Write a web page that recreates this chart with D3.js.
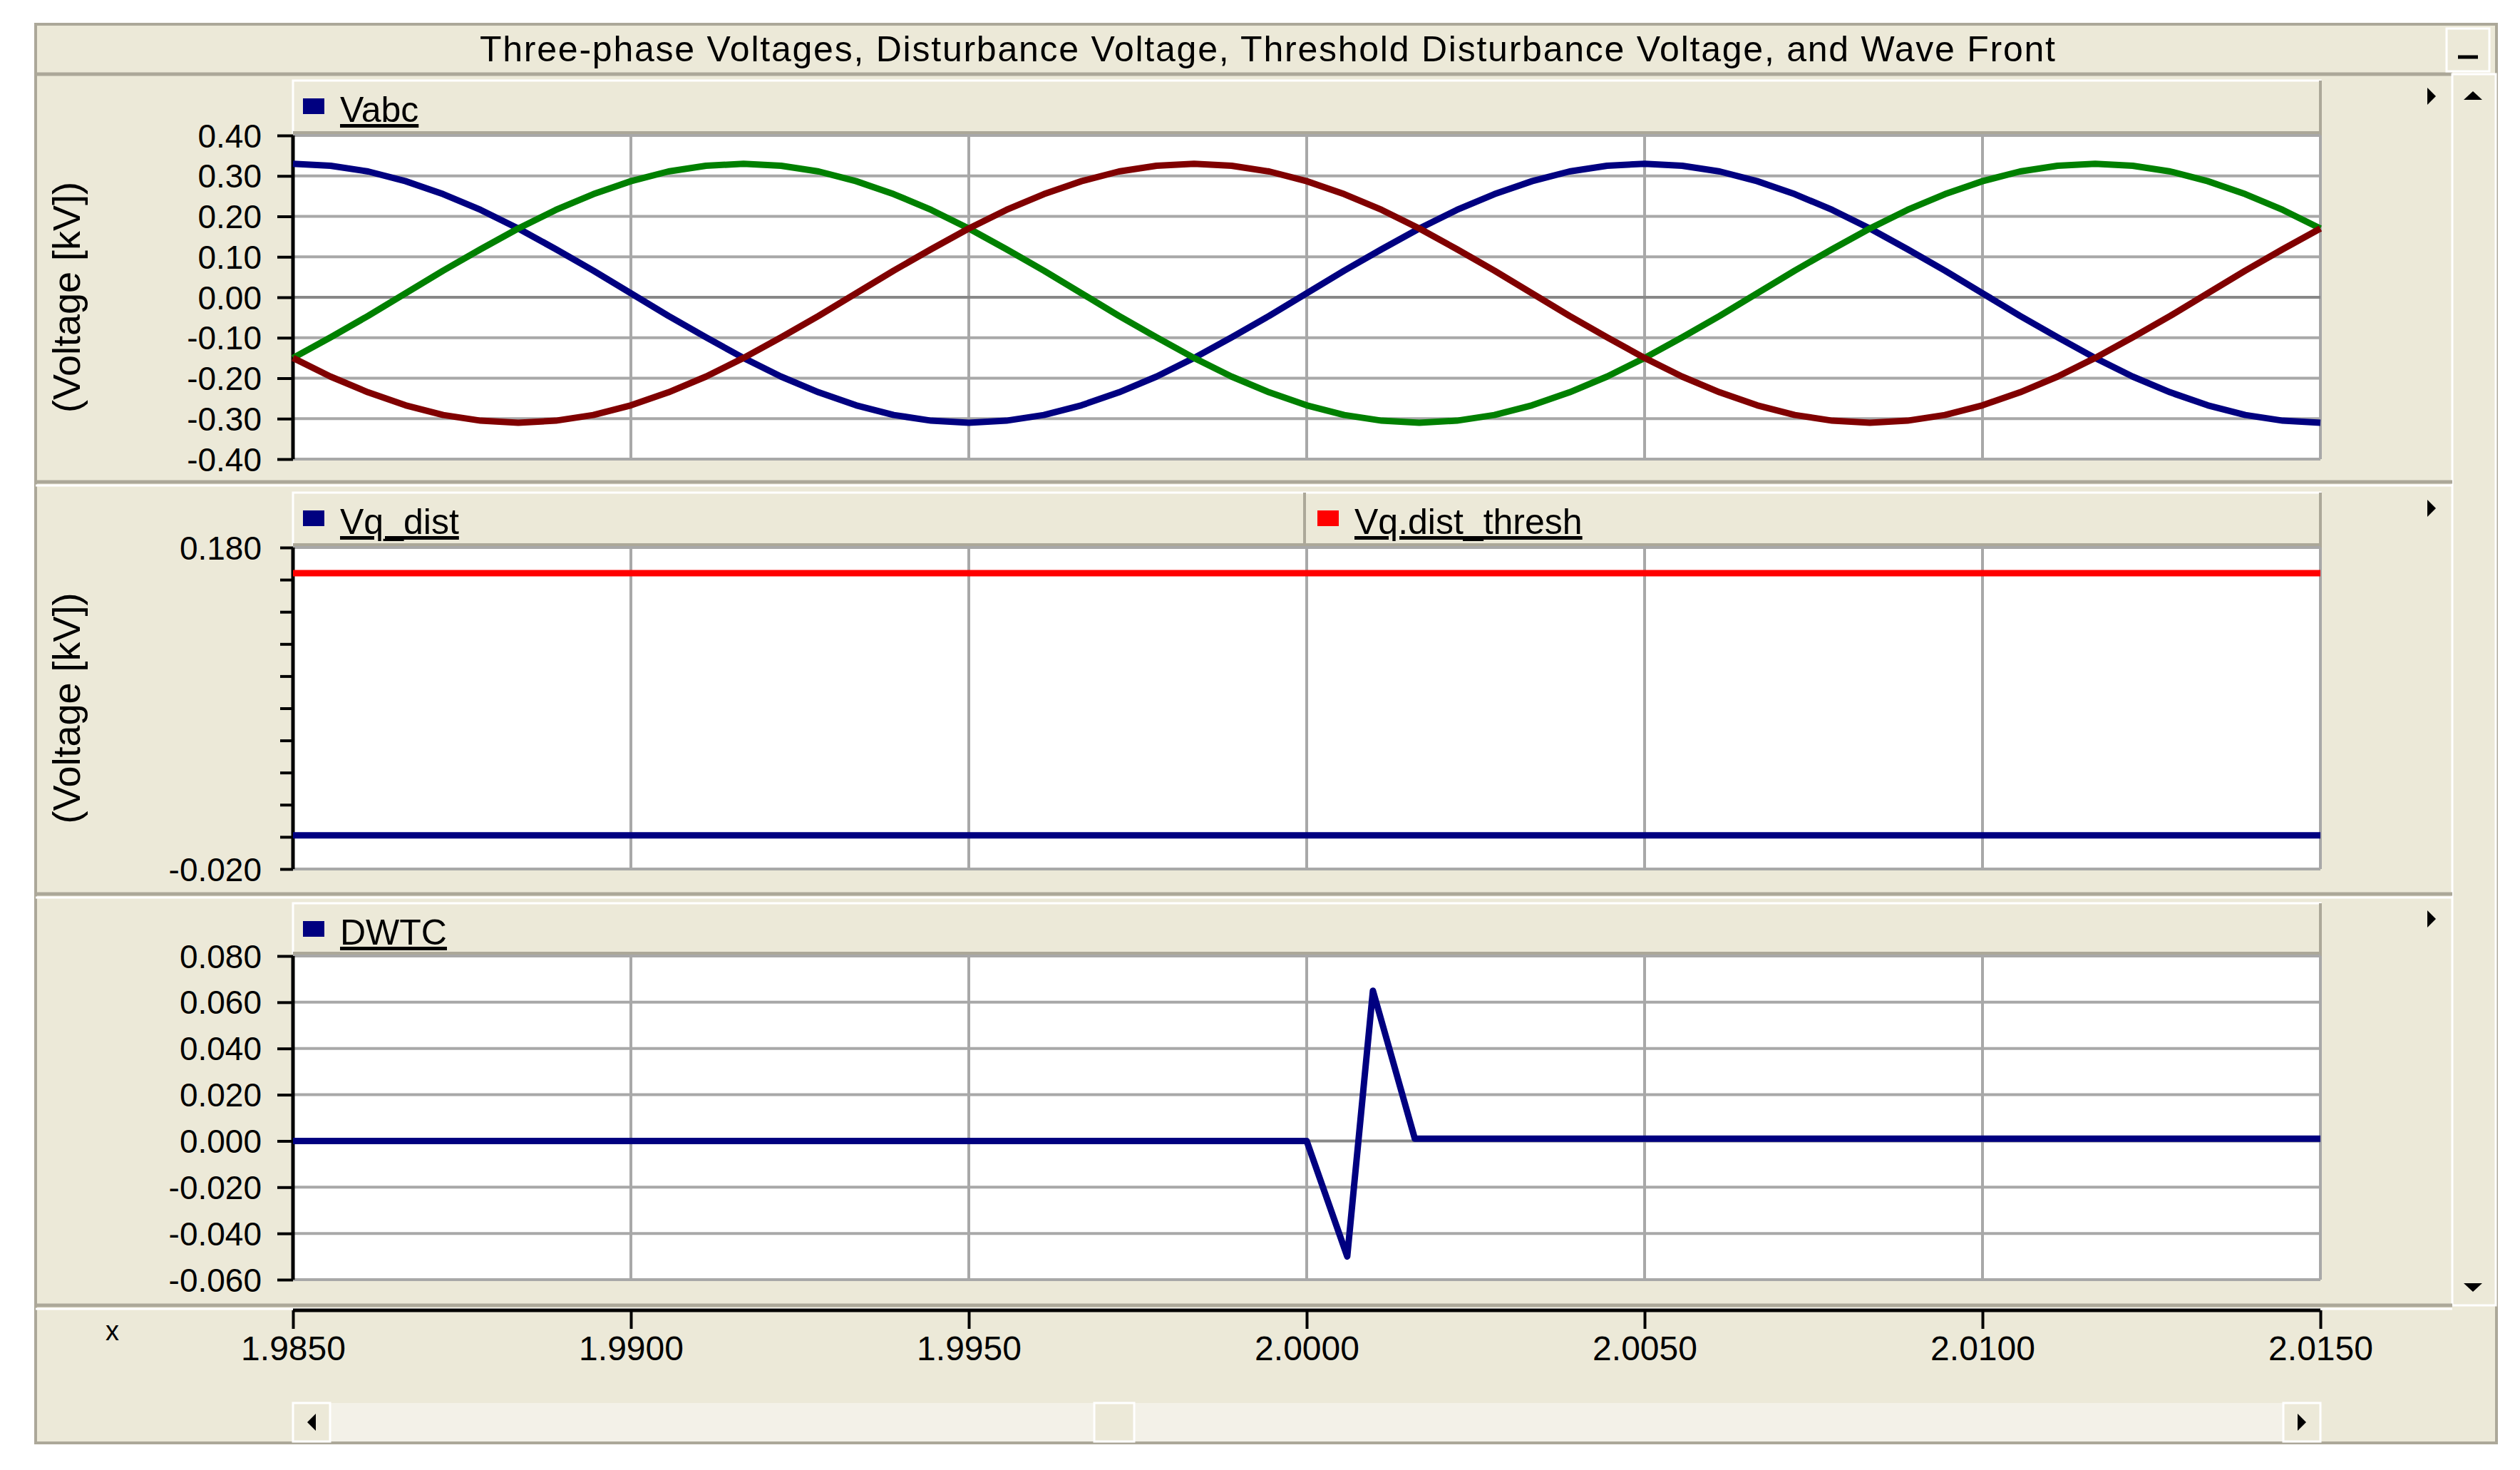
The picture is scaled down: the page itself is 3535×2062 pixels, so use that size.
<!DOCTYPE html>
<html><head><meta charset="utf-8">
<script src="https://cdn.jsdelivr.net/npm/d3@7"></script>
<style>body{margin:0;background:#fff}svg{display:block}</style>
</head><body>
<script>
const vBlue=[.330,.325,.311,.287,.255,.216,.170,.119,.066,.010,-.046,-.099,-.150,-.196,-.235,-.267,-.291,-.305,-.310,-.305,-.291,-.267,-.235,-.196,-.150,-.099,-.046,.010,.066,.119,.170,.216,.255,.287,.311,.325,
.330,.325,.311,.287,.255,.216,.170,.119,.066,.010,-.046,-.099,-.150,-.196,-.235,-.267,-.291,-.305,-.310];
const vGreen=[-.150,-.099,-.046,.010,.066,.119,.170,.216,.255,.287,.311,.325,
.330,.325,.311,.287,.255,.216,.170,.119,.066,.010,-.046,-.099,-.150,-.196,-.235,-.267,-.291,-.305,-.310,-.305,-.291,-.267,-.235,-.196,-.150,-.099,-.046,.010,.066,.119,.170,.216,.255,.287,.311,.325,
.330,.325,.311,.287,.255,.216,.170];
const vRed=[-.150,-.196,-.235,-.267,-.291,-.305,-.310,-.305,-.291,-.267,-.235,-.196,-.150,-.099,-.046,.010,.066,.119,.170,.216,.255,.287,.311,.325,
.330,.325,.311,.287,.255,.216,.170,.119,.066,.010,-.046,-.099,-.150,-.196,-.235,-.267,-.291,-.305,-.310,-.305,-.291,-.267,-.235,-.196,-.150,-.099,-.046,.010,.066,.119,.170];
const vqDistT=[1.985,2.015], vqDist=[0.001,0.001];
const vqThreshT=[1.985,2.015], vqThresh=[0.164,0.164];
const dwtcT=[1.985,2.0000,2.0006,2.00098,2.0016,2.015];
const dwtc=[0.0,0.0,-0.050,0.065,0.001,0.001];
const xTicks=[1.985,1.990,1.995,2.000,2.005,2.010,2.015];
const y1Ticks=[-0.4,-0.3,-0.2,-0.1,0,0.1,0.2,0.3,0.4];
const y2Ticks=[-0.02,0,0.02,0.04,0.06,0.08,0.10,0.12,0.14,0.16,0.18];
const y3Ticks=[-0.06,-0.04,-0.02,0,0.02,0.04,0.06,0.08];
const title="Three-phase Voltages, Disturbance Voltage, Threshold Disturbance Voltage, and Wave Front";

const W=3535,H=2062,BG="#ECE9D8",EDGE="#ACA899",GRID="#A8A8A8";
const FONT="'Liberation Sans',Arial,sans-serif";
const hy=f=>d=>f(d).replace("\u2212","-");
const svg=d3.select("body").append("svg").attr("width",W).attr("height",H);
svg.append("rect").attr("width",W).attr("height",H).attr("fill","#fff");
svg.append("rect").attr("x",50).attr("y",34).attr("width",3452).attr("height",1990).attr("fill",BG).attr("stroke",EDGE).attr("stroke-width",4);
svg.append("line").attr("x1",50).attr("x2",3440).attr("y1",104).attr("y2",104).attr("stroke",EDGE).attr("stroke-width",5);
svg.append("text").attr("x",1778).attr("y",86).attr("text-anchor","middle").attr("font-family",FONT).attr("font-size",50).attr("textLength",2210).text(title);
svg.append("rect").attr("x",3432).attr("y",40).attr("width",60).attr("height",60).attr("fill",BG).attr("stroke","#fff").attr("stroke-width",3);
svg.append("line").attr("x1",3448).attr("x2",3476).attr("y1",80).attr("y2",80).attr("stroke","#000").attr("stroke-width",5);
svg.append("rect").attr("x",3440).attr("y",104).attr("width",61).attr("height",1727).attr("fill",BG).attr("stroke","#fff").attr("stroke-width",3);
svg.append("path").attr("d","M3456,140 L3482,140 L3469,128Z").attr("fill","#000");
svg.append("path").attr("d","M3456,1800 L3482,1800 L3469,1812Z").attr("fill","#000");

const x=d3.scaleLinear().domain([1.985,2.015]).range([411,3255]);
const panels=[
 {top:190,bot:644,legTop:113,domain:[-0.4,0.4],ticks:y1Ticks,labels:y1Ticks,fmt:d3.format(".2f"),hgrid:true,ylab:true,sep:676},
 {top:768,bot:1219,legTop:691,domain:[-0.02,0.18],ticks:y2Ticks,labels:[-0.02,0.18],fmt:d3.format(".3f"),hgrid:false,ylab:true,sep:1254},
 {top:1341,bot:1795,legTop:1267,domain:[-0.06,0.08],ticks:y3Ticks,labels:y3Ticks,fmt:d3.format(".3f"),hgrid:true,ylab:false,sep:1831}
];
panels.forEach(p=>{
  const y=d3.scaleLinear().domain(p.domain).range([p.bot,p.top]);
  p.y=y;
  svg.append("line").attr("x1",50).attr("x2",3440).attr("y1",p.sep).attr("y2",p.sep).attr("stroke",EDGE).attr("stroke-width",5);
  svg.append("line").attr("x1",50).attr("x2",3440).attr("y1",p.sep+5).attr("y2",p.sep+5).attr("stroke","#fff").attr("stroke-width",3);
  svg.append("rect").attr("x",411).attr("y",p.legTop).attr("width",2844).attr("height",p.top-p.legTop-4).attr("fill",BG).attr("stroke","#fff").attr("stroke-width",3);
  svg.append("line").attr("x1",411).attr("x2",3255).attr("y1",p.top-4).attr("y2",p.top-4).attr("stroke",EDGE).attr("stroke-width",4);
  svg.append("line").attr("x1",3255).attr("x2",3255).attr("y1",p.legTop).attr("y2",p.top).attr("stroke",EDGE).attr("stroke-width",4);
  svg.append("path").attr("d",`M3405,${p.legTop+10} L3405,${p.legTop+34} L3417,${p.legTop+22}Z`).attr("fill","#000");
  svg.append("rect").attr("x",411).attr("y",p.top).attr("width",2844).attr("height",p.bot-p.top).attr("fill","#fff");
  const g=svg.append("g");
  xTicks.forEach(t=>g.append("line").attr("x1",x(t)).attr("x2",x(t)).attr("y1",p.top).attr("y2",p.bot).attr("stroke",GRID).attr("stroke-width",4));
  const hl=p.hgrid?p.ticks:[p.domain[0],p.domain[1]];
  hl.forEach(t=>g.append("line").attr("x1",411).attr("x2",3255).attr("y1",y(t)).attr("y2",y(t)).attr("stroke",Math.abs(t)<1e-9?"#888":GRID).attr("stroke-width",4));
  const ax=svg.append("g").attr("transform","translate(411,0)")
    .call(d3.axisLeft(y).tickValues(p.ticks).tickSize(p.hgrid?22:18).tickFormat(d=>p.labels.some(l=>Math.abs(l-d)<1e-9)?hy(p.fmt)(d):""));
  ax.select(".domain").attr("stroke","#000").attr("stroke-width",5).attr("d",`M0,${p.top}V${p.bot}`);
  ax.selectAll(".tick line").attr("stroke","#000").attr("stroke-width",4);
  ax.selectAll(".tick text").attr("font-family",FONT).attr("font-size",46).attr("fill","#000").attr("x",-44).attr("dy","0.35em");
  if(p.ylab){
    svg.append("text").attr("transform",`translate(112,${(p.top+p.bot)/2}) rotate(-90)`).attr("text-anchor","middle")
      .attr("font-family",FONT).attr("font-size",54).attr("fill","#000").text("(Voltage [kV])");
  }
});
function legend(xp,yTop,color,label){
  svg.append("rect").attr("x",xp).attr("y",yTop+25).attr("width",30).attr("height",22).attr("fill",color);
  svg.append("text").attr("x",xp+52).attr("y",yTop+58).attr("font-family",FONT).attr("font-size",50).attr("text-decoration","underline").text(label);
}
legend(425,panels[0].legTop,"#000080","Vabc");
legend(425,panels[1].legTop,"#000080","Vq_dist");
svg.append("line").attr("x1",1830).attr("x2",1830).attr("y1",panels[1].legTop).attr("y2",panels[1].top-4).attr("stroke",EDGE).attr("stroke-width",4);
legend(1848,panels[1].legTop,"#FF0000","Vq.dist_thresh");
legend(425,panels[2].legTop,"#000080","DWTC");

const tArr=d3.range(vBlue.length).map(i=>1.985+i*0.03/(vBlue.length-1));
function draw(p,ts,vs,color){
  const line=d3.line().x((d,i)=>x(ts[i])).y(d=>p.y(d));
  svg.append("path").datum(vs).attr("d",line).attr("fill","none").attr("stroke",color).attr("stroke-width",9).attr("stroke-linejoin","round");
}
draw(panels[0],tArr,vBlue,"#000080");
draw(panels[0],tArr,vGreen,"#008000");
draw(panels[0],tArr,vRed,"#800000");
draw(panels[1],vqThreshT,vqThresh,"#FF0000");
draw(panels[1],vqDistT,vqDist,"#000080");
draw(panels[2],dwtcT,dwtc,"#000080");

svg.append("text").attr("x",148).attr("y",1880).attr("font-family",FONT).attr("font-size",38).text("x");
const xa=svg.append("g").attr("transform","translate(0,1838)").call(d3.axisTop(x).tickValues(xTicks).tickSize(22).tickFormat(d3.format(".4f")));
xa.select(".domain").attr("stroke","#000").attr("stroke-width",5).attr("d","M411,0H3255");
xa.selectAll(".tick line").attr("stroke","#000").attr("stroke-width",4).attr("y2",26);
xa.selectAll(".tick text").attr("font-family",FONT).attr("font-size",48).attr("fill","#000").attr("y",70).attr("dy",0);
svg.append("rect").attr("x",411).attr("y",1968).attr("width",2844).attr("height",54).attr("fill","#F3F1E8");
svg.append("rect").attr("x",411).attr("y",1968).attr("width",52).attr("height",54).attr("fill",BG).attr("stroke","#fff").attr("stroke-width",3);
svg.append("rect").attr("x",3203).attr("y",1968).attr("width",52).attr("height",54).attr("fill",BG).attr("stroke","#fff").attr("stroke-width",3);
svg.append("rect").attr("x",1535).attr("y",1968).attr("width",56).attr("height",54).attr("fill",BG).attr("stroke","#fff").attr("stroke-width",3);
svg.append("path").attr("d","M443,1983 L443,2007 L431,1995Z").attr("fill","#000");
svg.append("path").attr("d","M3223,1983 L3223,2007 L3235,1995Z").attr("fill","#000");
</script>
</body></html>
